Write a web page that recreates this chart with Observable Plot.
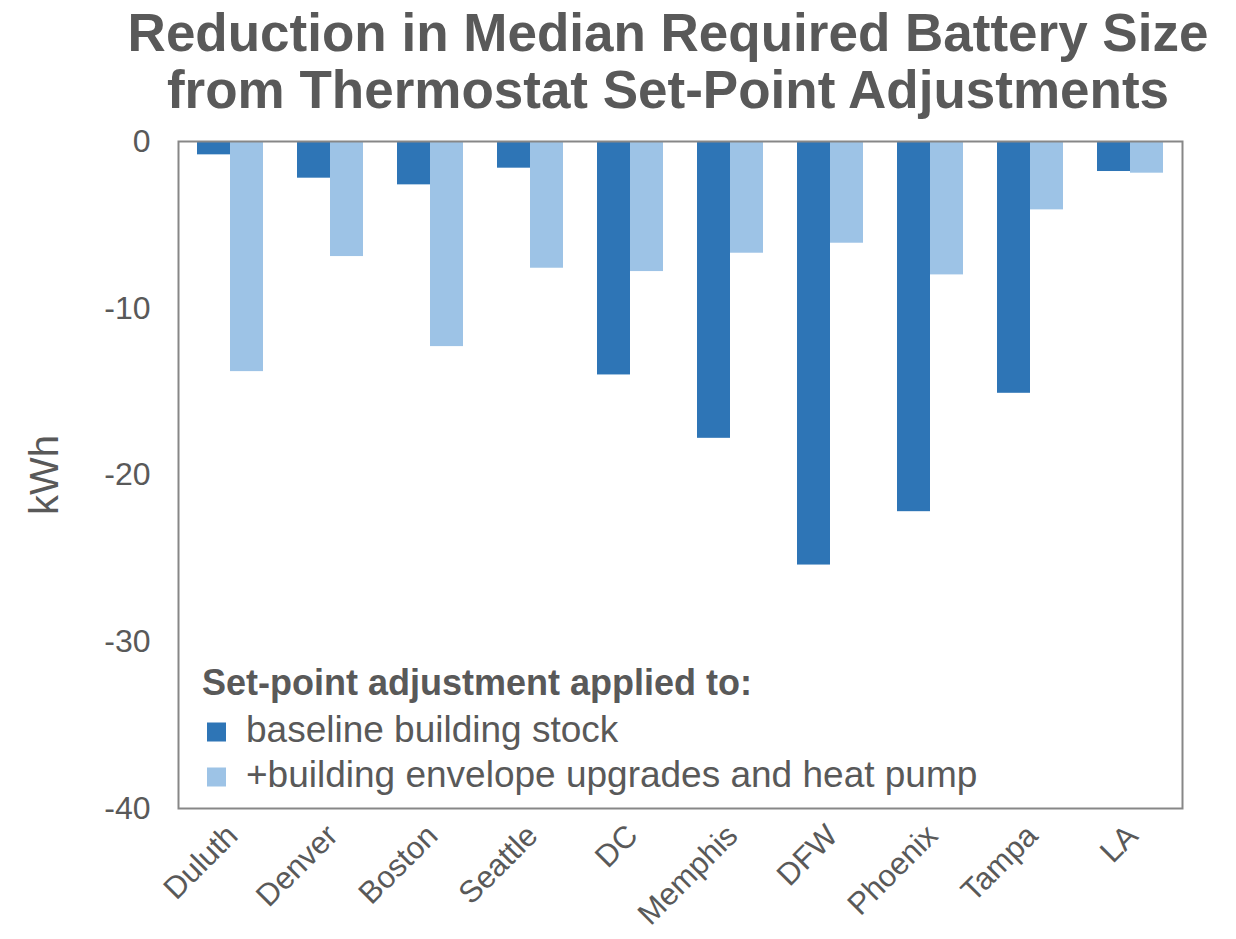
<!DOCTYPE html>
<html>
<head>
<meta charset="utf-8">
<script src="https://cdn.jsdelivr.net/npm/d3@7"></script>
<script src="https://cdn.jsdelivr.net/npm/@observablehq/plot@0.6"></script>
<style>
  html, body { margin: 0; padding: 0; background: #fff; }
  body { width: 1236px; height: 939px; overflow: hidden; font-family: "Liberation Sans", Arial, sans-serif; }
  #title { height: 118px; box-sizing: border-box; padding-top: 4px; text-align: center; font-weight: bold;
           font-size: 53px; line-height: 57px; color: #595959; padding-left: 100px; }
  #chart svg { display: block; }
</style>
</head>
<body>
<div id="title">Reduction in Median Required Battery Size<br>from Thermostat Set-Point Adjustments</div>
<div id="chart"></div>
<script>
const cities = ["Duluth", "Denver", "Boston", "Seattle", "DC", "Memphis", "DFW", "Phoenix", "Tampa", "LA"];
const baselineValues = [-0.8, -2.2, -2.6, -1.6, -14.0, -17.8, -25.4, -22.2, -15.1, -1.8];
const upgradeValues = [-13.8, -6.9, -12.3, -7.6, -7.8, -6.7, -6.1, -8.0, -4.1, -1.9];
const yTicks = [0, -10, -20, -30, -40];
const seriesNames = ["baseline building stock", "+building envelope upgrades and heat pump"];
const legendTitle = "Set-point adjustment applied to:";
const yLabel = "kWh";

const darkBlue = "#2E75B6";
const lightBlue = "#9DC3E6";
const textGray = "#595959";

const baseData = cities.map((c, i) => ({city: c, value: baselineValues[i]}));
const upData = cities.map((c, i) => ({city: c, value: upgradeValues[i]}));

const chart = Plot.plot({
  width: 1236,
  height: 821,
  marginTop: 23,
  marginBottom: 131,
  marginLeft: 178,
  marginRight: 54,
  style: {fontFamily: "'Liberation Sans', Arial, sans-serif", color: textGray, background: "#fff"},
  x: {domain: cities, paddingInner: 0.342, paddingOuter: 0.171, label: null},
  y: {domain: [-40, 0], label: null},
  marks: [
    Plot.barY(baseData, {x: "city", y: "value", fill: darkBlue, insetRight: 33, insetLeft: 0}),
    Plot.barY(upData, {x: "city", y: "value", fill: lightBlue, insetLeft: 33, insetRight: 0}),
    Plot.frame({stroke: "#878787", strokeWidth: 2}),
    Plot.axisY({ticks: yTicks, tickSize: 0, tickPadding: 28, fontSize: 32, fill: textGray, label: null, tickFormat: d => String(d)}),
    Plot.axisX({tickSize: 0, tickRotate: -45, tickPadding: 22, fontSize: 31, fill: textGray, label: null, dx: 2}),
    Plot.text([yLabel], {frameAnchor: "left", text: d => d, rotate: -90, dx: -133, textAnchor: "middle", fontSize: 40, fill: textGray})
  ]
});

document.getElementById("chart").appendChild(chart);

// Legend inside plot area
const svg = d3.select(chart);
const lg = svg.append("g").attr("font-family", "'Liberation Sans', Arial, sans-serif")
  .attr("fill", textGray).attr("text-anchor", "start");
lg.append("text").attr("x", 202).attr("y", 695 - 118).attr("font-size", 36).attr("font-weight", "bold")
  .attr("text-anchor", "start").text(legendTitle);
const colors = [darkBlue, lightBlue];
seriesNames.forEach((name, i) => {
  const base = 741.5 - 118 + i * 45;
  lg.append("rect").attr("x", 207).attr("y", base - 19).attr("width", 19).attr("height", 19).attr("fill", colors[i]);
  lg.append("text").attr("x", 246).attr("y", base).attr("font-size", 37).attr("text-anchor", "start").text(name);
});
</script>
</body>
</html>
